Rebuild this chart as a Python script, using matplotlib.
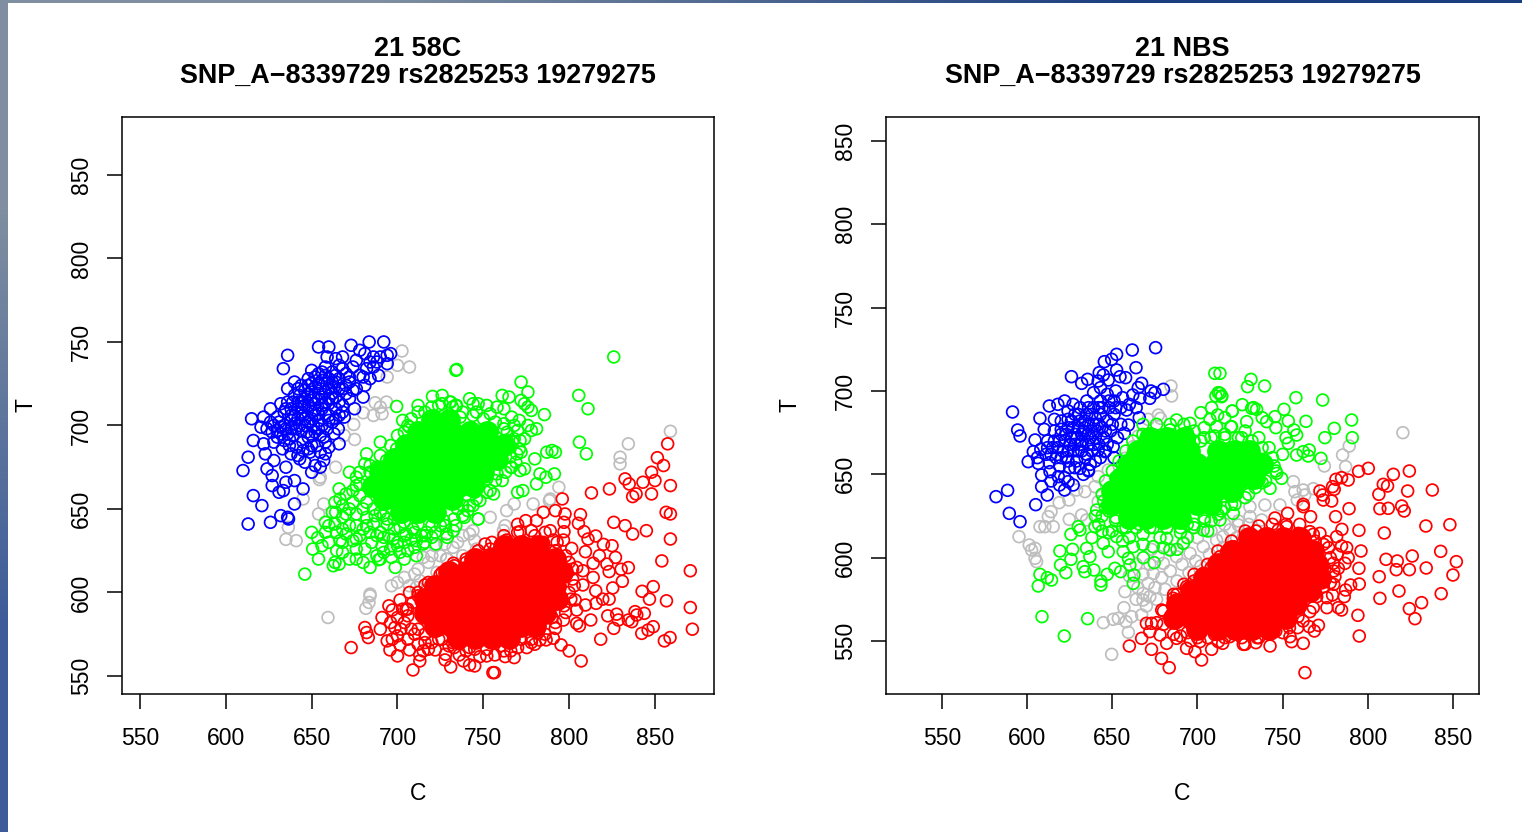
import numpy as np
import matplotlib
matplotlib.use("Agg")
import matplotlib.pyplot as plt

plt.rcParams["font.family"] = ["Liberation Sans", "DejaVu Sans"]

# all points as (C, T)
# *_core = spots where the rings pile up into solid colour, drawn as filled discs

blue_58c = [(613,641),(610,673),(613,681),(616,691),(615,704),(620.5,699),(622,705),(616,658),(621,652),(626,642),
    (632,646),(636,645),(636.5,644),(640,653),(645,662),(640,667),(635,666),(633.5,661),(631,660),(627,664),
    (627,670),(624,674),(628,679),(623,683),(622,689),(626,710),(633.5,734),(636,742),(654,747),(660,747),
    (659,741),(664,740),(673,748),(678,745),(683.5,750),(692,750),(681,743),(686,741),(694,742),(696,743),
    (694,737),(688,738),(689,730),(684,728),(680,729),(681,724),(680,717),(675,710),(669,705),(665.5,698),
    (666,689),(657,693),(657,679),(655,675),(652,676),(650,672),(646,678),(635,675),(642,682),(649,684),
    (628,700),(632,695),(637,692),(641,698),(645,690),(650,694),(654,698),(658,690),(630,705),(634,708),
    (638,703),(642,710),(646,704),(650,708),(654,703),(658,707),(662,702),(666,706),(636,714),(640,718),
    (644,714),(648,719),(652,713),(656,717),(660,713),(664,717),(668,712),(672,716),(644,724),(648,728),
    (652,723),(656,727),(660,722),(664,726),(668,722),(672,726),(676,722),(650,733),(654,731),(658,735),
    (662,732),(666,736),(670,731),(674,735),(678,730),(682,734),(686,735),(690,741),(684,738),(676,739),
    (668,741),(640,726),(636,722),(632,713),(628,690),(633,686),(638,683),(643,680),(648,686),(653,688),
    (658,683),(631,702),(635,698),(639,694),(643,700),(647,696),(651,700),(655,694),(659,698),(663,695),
    (640,706),(644,708),(648,702),(652,706),(656,710),(660,706),(664,710),(668,708),(646,716),(650,720),
    (654,716),(658,720),(662,719),(666,722),(670,719),(674,721),(648,724),(652,729),(656,732),(660,728),
    (664,730),(668,734),(672,729),(642,722),(638,710),(634,700),(630,697),(626,702),(624,698),(637,688),
    (641,687),(645,685),(650,688),(655,684),(660,687),(644,711),(648,712),(652,709),(656,712),(651,717),
    (655,722),(659,725),(663,723),(646,700),(650,704),(654,707),(642,704),(638,698),(645,706),(660,716),
    (632,699),(636,695),(640,701),(644,697),(648,693),(652,696),(656,700),(660,703),(664,704),(634,691),
    (630,693),(627,696),(638,706),(642,714),(646,712),(650,715),(654,719),(658,714),(662,716),(666,714),
    (670,724),(666,728),(662,726),(658,730),(654,725),(650,725),(646,721),(643,718),(639,714),(635,710)]
green_58c = [(826,741),(734.5,733.5),(772,726),(776,720),(761,718),(765,717),(772,715),(774,713),(776,711),(778,709),
    (785.6,706.5),(805.6,718),(811,710),(806,690),(810,683),(781,698),(778,697),(774,692),(780,680),(787,684),
    (790,685),(792,684),(791.4,671),(786.5,669),(783,671),(781,665),(773,661),(770,660),(756,659),(747,644),
    (771,703),(776,700),(771.4,691),(771.4,673),(774,674),(766.5,675),
    (663.6,654),(666.5,656),(670,659),(676,669),(681,677),(699.5,711.4),(734,733),(720.4,717.4),(720,711),(726,713),
    (730.5,714),(734.4,712),(707,699),(704,696),(699.5,686),(693.6,679),(688,675),(684,672),(678,665),(674,661),
    (650,636),(653.5,632.8),(650.6,626),(654,620),(646,611),(663.6,641),(664.5,636),(666.5,631),(664.6,625),(663.6,618),
    (662.6,616),(666,617),(672,620),(680,618),(684,615),(689,619.6),(688,622),(698.7,615),(696.5,621),(701.4,624),
    (706,625),(711,622),(715,629),(722.4,629),(728.6,635),(676,626),(681,626),(691,628),(674,631),(670,635),
    (680,638),(692,633),(697.5,632),(705,635),(711,631),(717,636),(670,647),(668,645),(676,647),(682,645),
    (686,641),(694,641),(701.5,639),(709,638),(729,633),(734,640),(741,649),(747,644),(754,661),(761,667),
    (744,713),(731,714),(734,712),(747,713),(766,675),(762,701),(766.5,705),(758,711),(769.5,683),(770,697),
    (736.5,705),(746,708),(754,707),(758,671),(748,655),(739,645),(732.6,637),(763.6,691),(765.6,681),(672,640),
    (678,634),(685,630),(700,628),(720,633),(725,640),(735,650),(745,660),(752,668),(760,678),(767,690),
    (762,710),(752,712),(742,716),(726,718),(712,708),(703,703),(690,690),(682,683),(672,672),(666,662),
    (658,642),(660,630),(668,624),(676,620),(692,624),(704,630),(716,630),(668,652),(674,654),(680,650),
    (687,646),(692,646),(698,644),(704,642),(712,641),(720,640),(727,643),(738,652),(744,652),(768,700),
    (764,696),(772,684),(662,648),(658,636),(656,628),(668,638),(684,636),(690,636),(696,626),(710,627),
    (712,712),(716,708),(724,712),(732,711),(738,708),(744,706),(750,704),(757,702),(762,698),(768,692),
    (771,686),(769,678),(763,672),(757,667),(752,660),(746,656),(742,652),(738,646),(733,644),(728,640),
    (722,636),(716,634),(710,636),(704,634),(698,638),(694,644),(690,648),(686,650),(682,654),(678,658),
    (676,664),(678,672),(684,676),(690,682),(696,688),(700,694),(706,700),(708,704),(700,630),(708,632),
    (714,634),(695,634),(688,634),(682,640),(676,640),(672,650),(664,648),(660,640),(668,630),(676,632),
    (690,620),(704,620)]
green_58c_core = [(720,703),(730,703),(712,696),(722,696),(732,696),(742,696),(752,696),(705,688),(715,688),(725,688),
    (735,688),(745,688),(755,688),(762,688),(698,680),(708,680),(718,680),(728,680),(738,680),(748,680),
    (758,680),(690,672),(700,672),(710,672),(720,672),(730,672),(740,672),(750,672),(686,664),(696,664),
    (706,664),(716,664),(726,664),(736,664),(744,664),(692,656),(702,656),(712,656),(722,656),(732,656),
    (702,648),(712,648),(722,648)]
red_58c = [(857.4,689),(851.4,680.7),(855,676),(848,672),(850,667),(859,664),(843,666),(848,659),(832.6,668),(835,665),
    (839,659),(837,657.4),(823.5,662),(813,659.6),(796,656),(856.5,648),(859,647),(826,642),(832.6,640),(837,635),
    (845,637),(859,632),(806.6,646.6),(805.4,641.4),(808.7,636.4),(815.5,633.8),(811,632),(820,628.8),(825,628),(827,621),
    (854,618.9),(870.6,613),(834.5,614.9),(830.3,613.9),(823.3,612.5),(822,617),(817.6,622),(809.5,624.4),(831,606.7),(825.4,602.7),
    (815.5,601),(849,603.5),(842.5,600.7),(846.8,596),(856.7,595),(870.6,591),(823.3,596),(819.6,596),(815.7,593.5),(809.5,592.5),
    (804.4,589.5),(812.6,583.5),(822.5,586),(827.7,587),(828.7,583.5),(834.5,583.5),(838.4,588.5),(839.4,586.5),(843.8,587.5),(836.5,582.5),
    (826,578.5),(849,579.5),(846,577.5),(842.3,575.5),(818.4,572),(855.5,571),(858.8,573),(871.8,578),(806,580),(804.4,581.5),
    (795.3,568.6),(800,565),(807,559),(756.5,552),(731,555.4),(745,556),(738.4,559),(748,561.6),(756.8,562.6),(762.7,561.6),
    (768,561),(775.3,567),(786.6,571.6),(790.8,572.6),(796.7,583.5),(792,578.5),(783,571.5),(780,569),
    (792,649),(797.6,647),(797,642),(785,648),(781,643),(774.7,643),(770,640.8),(771.4,636.4),(780,634),(789,637),
    (797,636.4),(796.7,631.4),(790.8,631.4),(801.5,626.4),(804.4,615),(808,613),(808,604.5),(803.5,595.5),(814,609),(814,617.5),
    (751,629),(754,626),(763.6,631.4),(744,618.5),(732.6,617.5),
    (673,567),(681,579),(682,576),(683,573),(695.6,565.6),(694,571),(709,553.6),(713,559),(755.6,552),
    (691,585),(697,589.5),(701.5,595.5),(707,600),(716,604.5),(724.8,610.5),(698.5,579),(697,572),(701.5,568.6),(707,565.6),
    (713,562.6),(722,565.6),(727.7,559.6),(736,562.6),(742,556.6),(704,582),(710,575),(703,590),(709,594),
    (720,570),(730,568),(745,566),(760,568),(772,572),(782,576),(790,585),(797,592),(800,600),(802,608),
    (800,618),(792,625),(785,630),(775,628),(765,624),(755,622),(740,618),(730,612),(722,605),(712,598),(705,590),
    (706,572),(712,569),(716,575),(718,566),(726,572),(733,567),(740,565),(752,562),(766,565),(778,570),
    (700,585),(706,590),(712,600),(718,606),(726,612),(733,616),(740,620),(747,625),(755,630),(762,634),
    (770,636),(778,637),(786,636),(793,630),(798,622),(802,614),(803,604),(801,596),(798,588),(792,582),
    (786,575),(778,572),(770,567),(762,565),(752,566),(742,567),(732,570),(724,572),(716,570),(708,578),
    (702,578),(696,582),(700,574),(712,578),(706,586),(695,592),(690,578),(700,562),(715,565),(728,563)]
red_58c_core = [(762,628),(772,628),(782,628),(745,620),(755,620),(765,620),(775,620),(785,620),(792,620),(730,612),
    (740,612),(750,612),(760,612),(770,612),(780,612),(790,612),(796,612),(722,604),(732,604),(742,604),
    (752,604),(762,604),(772,604),(782,604),(792,604),(716,596),(726,596),(736,596),(746,596),(756,596),
    (766,596),(776,596),(786,596),(793,596),(716,588),(726,588),(736,588),(746,588),(756,588),(766,588),
    (776,588),(786,588),(722,580),(732,580),(742,580),(752,580),(762,580),(772,580),(780,580),(735,573),
    (745,573),(755,573),(765,573)]
gray_58c = [(702.6,744.6),(700,736),(707,735),(694,729),(687,713.6),(690,711),(693.6,714),(680,707.6),(686,706),(691,707),
    (674.5,700.6),(669,694),(675,691.6),(664,675),(654.5,667.6),(655,669),(645,656),(657,653),(654,647),(636.4,639),
    (635,631.8),(641,631),(684,598),(696.5,604),(704,609),(710,611),(713,607),(707,604),(711,603),(718,618),
    (715,621),(723,612),(728.6,620),(727.6,629),(732.4,627),(659.5,585),(684,599),(683.4,594),(681.6,590.5),
    (859,696.5),(834.5,689),(829.7,681),(829.7,677),(794,663),(789,656),(788.5,655),(779,653),(768,653),(763.6,649),
    (754,645),(762.7,640),(761.7,637),(744,637),(742,635),(738,634),(745,631),(746,626),(738,622),(729,620),
    (725,622),(735,630),(722,628),(712,614),(720,622),(700,606)]

blue_nbs = [(675.4,726),(661.7,724.6),(652.5,722),(649.6,719),(645.3,717.6),(663.9,714),(652.5,712.6),(642.3,711),(644.7,709.6),(626,708.6),
    (632,704.6),(635.5,707),(641.7,706),(647.6,706.6),(654.5,708.6),(657.8,708),(667.2,704.6),(665.2,702),(680,701),(675,699),
    (672.7,700),(672,695.6),(666.2,695.6),(662,697.6),(658.4,688.6),(665.8,684),(659.4,679.6),(657,674.6),(650.5,666.6),(645.7,663.6),
    (641.7,664.6),(635.9,652.6),(631,653.6),(627,643.6),(622,640.6),(619,643.6),(611.8,637.6),(608.5,642.6),(605,631.8),(595.8,621.6),
    (589.5,626.6),(588.5,640.4),(581.7,636.6),(595.8,673),(594.4,676.6),(591.4,687.4),(600.6,657.6),(606.5,656.6),(603.6,663.6),(604.6,670.6),
    (607.5,683.6),(613,691),(608.5,649.6),(613.4,651.6),(618.3,648.6),(624,645.6),
    (612,670),(616,676),(620,682),(624,688),(618,692),(622,694),(627,692),(631,690),(635,694),(639,690),
    (643,694),(647,698),(651,694),(655,690),(643,702),(639,699),(611,662),(615,666),(619,670),(623,674),
    (627,678),(631,682),(635,686),(639,680),(643,686),(647,682),(651,686),(655,680),(649,676),(645,672),
    (641,676),(637,672),(633,676),(629,672),(625,668),(621,664),(617,660),(613,657),(619,655),(623,660),
    (627,664),(631,668),(635,662),(639,668),(643,660),(629,658),(625,654),(633,650),(637,656),(647,668),
    (653,672),(651,660),(616,683),(620,677),(624,683),(628,686),(632,674),(636,680),(640,684),(644,678),
    (648,690),(652,700),(656,696),(660,692),(664,690),(610,677),(608,665),(606,660),(614,646),(622,648),
    (628,668),(632,664),(636,668),(624,664),(628,674),(632,670),(636,674),(640,672),(634,682),(638,686),(642,690),
    (626,682),(630,678),(634,678),(638,676),(642,680),(646,676),(650,680),(626,672),(622,670),(618,666),
    (630,664),(634,660),(638,664),(642,668),(646,664),(640,658),(636,652),(628,654),(624,658),(620,660),
    (614,662),(612,666),(616,670),(620,674),(624,678),(630,686),(636,690),(644,690),(648,694),(652,690)]
green_nbs = [(731.4,707),(729.4,702.6),(739.4,703),(757.8,696),(773.5,694.6),(726.3,691.8),(720.4,688),(731.8,689.6),(734.7,689),(750.8,689),
    (790.5,682.6),(780.3,677.6),(763.7,681.8),(774.8,672),(790.9,672),(753.3,682),(756.6,676.6),(758.2,673.6),(753.3,668.6),(758.2,661.6),
    (762.1,663.6),(765.6,664.6),(765,661),(772.5,659.6),(749.4,647.6),(742.6,641.6),(746.5,650.6),(720,678.6),(728.9,681.6),(740.6,681.6),
    (745.5,684.6),(713.2,698.6),(714.2,696.6),(713.2,710.6),
    (710.2,710.6),(712.2,699),(714.2,697),(710.8,697),(708.3,690),(702,687),(720.4,688),(687.7,682.6),(711.8,685.6),(707.3,683),
    (711.2,678.6),(719.6,678.6),(710.2,673),(695.6,680.6),(683.8,676.6),(625.7,614),(619.2,604),(626.7,605),(625.7,599),(619.6,595.6),
    (622.7,591),(607.5,590),(611.8,588),(614.3,586.6),(606.5,583),(608.7,564.6),(621.8,553),(635.5,563.4),(632.9,594.6),(633.9,591.6),
    (639.2,592.6),(647,590),(643.3,586),(643.3,583.6),(651.5,593.6),(654.9,591.6),(660.3,595.6),(662.7,589.6),(662.3,584.6),(659.4,599.6),
    (668.2,600),(674.6,597),(683.8,604.6),(688,605),(656.4,603.6),(647.6,603.6),(636.8,600.6),(634.9,605.6),(631,616.6),(630,618.6),
    (639.8,618.6),(640.8,628.6),(644.7,608.6),(652.5,612.6),(662.3,606.6),(674,606.6),(681.9,611.6),(691.6,608.6),(703.4,616.6),(713.2,622.6),
    (721,626.6),(657.4,651.6),(648.6,640.6),
    (645,634),(644,625),(652,622),(650,616),(660,612),(668,614),(678,612),(690,615),(698,618),(708,622),
    (720,632),(730,638),(738,645),(745,655),(750,662),(752,672),(746,678),(738,684),(728,676),(716,684),
    (704,678),(694,675),(682,670),(670,668),(662,662),(656,656),(652,648),(736,672),(742,666),(733,690),
    (638,612),(644,616),(656,618),(664,618),(672,618),(682,618),(694,620),(704,622),(714,628),(716,674),
    (726,672),(704,672),(698,670),(642,620),(648,628),(660,622),
    (668,680),(676,680),(684,680),(692,680),(698,676),(702,670),(708,672),(716,672),(724,672),(732,670),
    (738,666),(744,660),(746,652),(740,646),(734,642),(728,636),(722,632),(716,630),(712,626),(704,624),
    (698,620),(690,618),(682,618),(674,618),(666,620),(658,618),(652,624),(646,630),(644,638),(646,646),
    (650,652),(654,658),(658,664),(662,670),(668,674),(640,625),(648,615),(656,610),(668,608),(680,606),
    (694,612),(706,616)]
green_nbs_core = [(672,672),(682,672),(692,672),(665,664),(675,664),(685,664),(695,664),(712,664),(722,664),(730,664),
    (660,656),(670,656),(680,656),(690,656),(700,656),(710,656),(720,656),(730,656),(738,656),(655,648),
    (665,648),(675,648),(685,648),(695,648),(705,648),(715,648),(725,648),(733,648),(650,640),(660,640),
    (670,640),(680,640),(690,640),(700,640),(710,640),(720,640),(650,632),(660,632),(670,632),(680,632),
    (690,632),(700,632),(708,632),(660,624),(670,624),(680,624),(690,624)]
red_nbs = [(800.3,653.6),(794.6,651.8),(788.5,646.6),(784.6,648),(781.3,647),(779.3,642.6),(780.3,641),(771.9,640),(773.5,637.6),(773.9,634.6),
    (778.8,634),(789,629.4),(781.1,624.6),(762.1,632),(762.1,630.6),(766.4,624.6),(752.9,626.6),(745.5,623.8),(734.3,616),(784.8,617),
    (794.8,616.4),(781.7,612.6),(784.6,607),(787.6,606),(796,604),(788.5,600),(786.6,596.6),(794.8,593.6),(795,584.2),(789.9,583.6),
    (787,580.6),(786.2,576.6),(779.3,577.6),(782.7,570),(784.6,568.6),(794.2,565.4),(795,553),(771,559.4),(768.6,556),(765.6,558.6),
    (758.8,558),(762.1,548.6),(755.3,549.6),(754.3,552.6),(742.6,547),(763.1,531),(734.3,549),(727.9,548),(726.9,548),(714.8,548.6),
    (824.4,652),(815,650),(809.1,644),(811.6,643),(806.5,638),(823.4,640),(837.9,640.6),(807.1,629.4),(812,629.6),(819.9,631),
    (821.4,628),(809.7,614.8),(834.1,619),(848.2,619.8),(842.8,603.8),(852,597.6),(810.7,599),(817.3,598),(826.1,601),(834.3,593.8),
    (816.7,592.8),(824.4,592.8),(850,589.6),(806.7,588.6),(818.3,580),(843.1,578.4),(807.1,575.6),(831.6,573),(824.4,569.4),(827.7,563.4),
    (660,547),(667.2,551.6),(673,545),(678.9,539.6),(683.4,534),(702.4,538.6),(698.5,543.6),(693.6,545.6),(708.3,545),(712.2,549.6),
    (701.4,549.6),(670,560.6),(672,555.6),(681.9,548.6),(687.7,551.6),(678,553.6),(676,561),(673,560.6),(679,568.6),(685.8,575.6),
    (693.6,582.6),(703.4,590.6),(713.2,600.6),(721,606.6),(717,603.6),
    (775.8,609.6),(771.9,614.6),(766,615.6),(759.2,614.6),(752.3,618.6),(747.4,616.6),(738.6,610.6),(731.8,608.6),(779.7,596.6),(782.7,593.6),
    (774.8,593.6),(780.7,588.6),(773.9,582.6),(770,576.6),(766,567.6),(759,564.6),(750.4,562.6),(745.5,558.6),(738.6,558.6),(725,554.6),(719,552.6),
    (690,553),(700,552),(710,554),(735,552),(750,555),(776,570),(778,585),(782,602),(777,606),(769,610),(742,614),(726,604),(708,594),(698,586),(688,578),
    (686,554),(694,555),(680,560),(680,568),(686,578),(692,584),(698,590),(706,596),(712,604),(720,610),
    (728,616),(736,619),(744,620),(752,620),(760,620),(768,614),(774,608),(778,600),(780,592),(780,584),
    (776,576),(768,570),(762,562),(754,558),(746,556),(736,552),(726,552),(716,552),(706,552),(696,550)]
red_nbs_core = [(730,612),(740,612),(750,612),(760,612),(720,604),(730,604),(740,604),(750,604),(760,604),(768,604),
    (712,596),(722,596),(732,596),(742,596),(752,596),(762,596),(770,596),(704,588),(714,588),(724,588),
    (734,588),(744,588),(754,588),(764,588),(772,588),(696,580),(706,580),(716,580),(726,580),(736,580),
    (746,580),(756,580),(766,580),(688,572),(698,572),(708,572),(718,572),(728,572),(738,572),(748,572),
    (758,572),(686,564),(696,564),(706,564),(716,564),(726,564),(736,564),(746,564),(752,564),(700,557),
    (712,557),(722,557),(732,557),(742,557)]
gray_nbs = [(684.4,703),(684.8,697),(677,685.6),(678.3,683.6),(671,683),(671,672.6),(675,673.6),(665.2,673),(662.3,666.6),(657.4,659.6),
    (647.6,652.6),(652.5,646.6),(641.7,648.6),(639.8,642.6),(633.9,639.6),(629,640.6),(624.5,634.6),(618.8,633),(614,627.6),(612.4,624.6),
    (632,625.6),(634.9,622.6),(624.7,623),(615.3,618.6),(610.4,618.6),(607.5,618.6),(595.2,612.6),(601.2,607.6),(604.6,605.6),(602.6,604.6),
    (604.6,599.6),(605.5,597.6),(641.7,633.6),(657.4,579.6),(656.8,570),(644.7,561),(650.5,563),(653.5,563.6),(658,561.6),(661.3,564.6),
    (659.4,555.2),(649.6,542),(667.2,565.6),
    (668,578.6),(671,584.6),(674,590.6),(680,596.6),(687.7,600.6),(695.6,602.6),(703.4,606.6),(711.2,610.6),(719,616.6),(668,574.6),
    (672,576.6),(675,582),(679,588),(684,592),(691,596),(699,598),(707,602),(715,606),(723,612),(670,571),
    (665,582),(668,590),(672,596),(677,601),(684,605),(692,609),(700,612),(708,616),(716,620),(724,622),
    (664,575),(676,575),(681,581),(688,586),(695,591),(702,595),(673,605),(664,596),(660,589),(730,620),
    (820.6,675),(789.1,667),(785.2,661.6),(787,654.6),(774.5,655),(756.3,645.6),(757.2,639.6),(762.1,640.6),(768,641.4),(758.6,634.6),
    (763,637.6),(748.4,631.6),(739.6,631.6),(730.8,624.6),(737.7,622.6),(724,619.6),(726.9,612.6),(721,606.6),(715,612.6),(730.8,630.6)]

titles = ["21 58C\nSNP_A\u22128339729 rs2825253 19279275", "21 NBS\nSNP_A\u22128339729 rs2825253 19279275"]
ticks = [550, 600, 650, 700, 750, 800, 850]
xlims = [(539.5, 884.4), (517.1, 865.3)]
ylims = [(539.2, 884.7), (518.2, 864.4)]
boxes = [(122, 714), (886, 1479)]
W, H = 1522, 832


def points(ax, pts, colour):
    c, t = zip(*pts)
    ax.scatter(c, t, s=72, facecolors="none", edgecolors=colour, linewidths=1.25)


def core(ax, pts, colour):
    c, t = zip(*pts)
    ax.scatter(c, t, s=270, c=colour, linewidths=0)


def panel(box, title, xlim, ylim, gray, blue, green, green_core, red, red_core):
    ax = fig.add_axes([box[0] / W, 1 - 694 / H, (box[1] - box[0]) / W, (694 - 117) / H])
    points(ax, gray, "#bebebe")
    points(ax, blue, "#0000ff")
    core(ax, green_core, "#00ff00")
    points(ax, green, "#00ff00")
    core(ax, red_core, "#ff0000")
    points(ax, red, "#ff0000")
    ax.set_xlim(xlim)
    ax.set_ylim(ylim)
    ax.set_xticks(ticks)
    ax.set_yticks(ticks)
    ax.tick_params(length=11, width=1.1, labelsize=16.5)
    ax.tick_params(axis="x", pad=13)
    ax.tick_params(axis="y", pad=10)
    for label in ax.get_yticklabels():
        label.set_rotation(90)
        label.set_va("center")
    for s in ax.spines.values():
        s.set_linewidth(1.1)
    ax.set_title(title, fontsize=19.45, fontweight="bold", pad=24.5, linespacing=1.03)
    ax.set_xlabel("C", fontsize=16.5, labelpad=22.5)
    ax.set_ylabel("T", fontsize=16.5, labelpad=23)


fig = plt.figure(figsize=(W / 100, H / 100), dpi=100)

# slide background peeking in at the top and left edge
left = fig.add_axes([0, 0, 8 / W, 1])
left.imshow(np.array([[[0.50, 0.56, 0.63]], [[0.24, 0.36, 0.60]]]), aspect="auto", interpolation="bilinear")
left.axis("off")
top = fig.add_axes([0, 1 - 3 / H, 1, 3 / H])
top.imshow(np.array([[[0.50, 0.56, 0.63], [0.10, 0.24, 0.50]]]), aspect="auto", interpolation="bilinear")
top.axis("off")

panel(boxes[0], titles[0], xlims[0], ylims[0], gray_58c, blue_58c, green_58c, green_58c_core, red_58c, red_58c_core)
panel(boxes[1], titles[1], xlims[1], ylims[1], gray_nbs, blue_nbs, green_nbs, green_nbs_core, red_nbs, red_nbs_core)

fig.savefig("out.png", dpi=100)
